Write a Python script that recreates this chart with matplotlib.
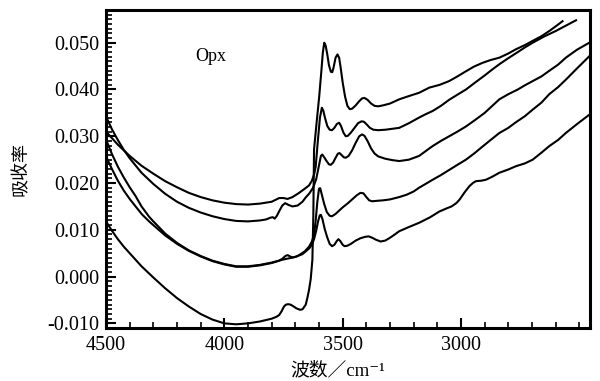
import numpy as np
import matplotlib
matplotlib.use("Agg")
import matplotlib.pyplot as plt
from matplotlib.ticker import MultipleLocator, FormatStrFormatter, FixedLocator

# wavenumber (cm-1) / absorbance
wn_a = [4500, 4475, 4450, 4425, 4400, 4350, 4300, 4250, 4200, 4150, 4100, 4050, 4000,
        3950, 3900, 3850, 3800, 3780, 3768, 3758, 3748, 3740, 3730, 3720, 3710, 3695,
        3680, 3670, 3656, 3649, 3642, 3635, 3628, 3624, 3621, 3610, 3599, 3590, 3584,
        3578, 3572, 3565, 3558, 3550, 3544, 3538, 3530, 3522, 3515, 3508, 3500, 3490,
        3480, 3470, 3460, 3445, 3430, 3418, 3408, 3395, 3380, 3365, 3350, 3330, 3300,
        3261, 3220, 3177, 3134, 3090, 3050, 3015, 2979, 2945, 2909, 2875, 2838, 2800,
        2768, 2730, 2697, 2660, 2627, 2600, 2571]
abs_a = [0.0118, 0.0098, 0.0080, 0.0064, 0.0050, 0.0022, -0.0002, -0.0025, -0.0046,
         -0.0064, -0.0080, -0.0092, -0.0100, -0.0102, -0.0100, -0.0096, -0.0090, -0.0086,
         -0.0082, -0.0074, -0.0064, -0.0060, -0.0059, -0.0060, -0.0063, -0.0068, -0.0071,
         -0.0070, -0.0060, -0.0045, -0.0028, -0.0005, 0.0036, 0.0130, 0.0272, 0.0330,
         0.0386, 0.0440, 0.0478, 0.0500, 0.0494, 0.0475, 0.0452, 0.0438, 0.0437, 0.0448,
         0.0468, 0.0475, 0.0468, 0.0445, 0.0415, 0.0385, 0.0365, 0.0358, 0.0359, 0.0366,
         0.0375, 0.0381, 0.0382, 0.0378, 0.0370, 0.0365, 0.0364, 0.0366, 0.0370, 0.0379,
         0.0386, 0.0393, 0.0404, 0.0410, 0.0418, 0.0428, 0.0439, 0.0449, 0.0457, 0.0463,
         0.0468, 0.0477, 0.0486, 0.0495, 0.0504, 0.0514, 0.0525, 0.0535, 0.0546]

wn_b = [4500, 4475, 4450, 4425, 4400, 4350, 4300, 4250, 4200, 4150, 4100, 4050, 4000,
        3950, 3900, 3850, 3800, 3780, 3768, 3750, 3733, 3712, 3684, 3660, 3642, 3630,
        3620, 3614, 3605, 3596, 3588, 3582, 3575, 3565, 3555, 3545, 3535, 3525, 3515,
        3507, 3497, 3487, 3478, 3465, 3450, 3435, 3420, 3410, 3398, 3385, 3370, 3350,
        3320, 3290, 3261, 3220, 3177, 3150, 3120, 3085, 3050, 3015, 2979, 2940, 2900,
        2870, 2838, 2800, 2760, 2730, 2697, 2650, 2600, 2555, 2514]
abs_b = [0.0310, 0.0296, 0.0282, 0.0270, 0.0258, 0.0237, 0.0220, 0.0204, 0.0191, 0.0179,
         0.0170, 0.0163, 0.0158, 0.0155, 0.0154, 0.0156, 0.0160, 0.0165, 0.0168, 0.0168,
         0.0166, 0.0170, 0.0179, 0.0188, 0.0195, 0.0205, 0.0220, 0.0235, 0.0290, 0.0340,
         0.0361, 0.0355, 0.0340, 0.0322, 0.0314, 0.0313, 0.0318, 0.0326, 0.0329, 0.0322,
         0.0308, 0.0300, 0.0301, 0.0308, 0.0318, 0.0328, 0.0332, 0.0331, 0.0325, 0.0318,
         0.0314, 0.0313, 0.0314, 0.0316, 0.0318, 0.0328, 0.0340, 0.0347, 0.0354, 0.0365,
         0.0378, 0.0389, 0.0400, 0.0415, 0.0430, 0.0442, 0.0454, 0.0467, 0.0480, 0.0490,
         0.0500, 0.0513, 0.0525, 0.0537, 0.0548]

wn_c = [4500, 4475, 4450, 4425, 4400, 4350, 4300, 4250, 4200, 4150, 4100, 4050, 4000,
        3950, 3900, 3850, 3825, 3805, 3795, 3787, 3778, 3768, 3755, 3743, 3728, 3712,
        3690, 3670, 3655, 3642, 3625, 3612, 3600, 3592, 3586, 3578, 3568, 3558, 3550,
        3540, 3530, 3520, 3513, 3505, 3495, 3487, 3475, 3460, 3445, 3430, 3418, 3408,
        3395, 3380, 3365, 3350, 3320, 3290, 3261, 3220, 3177, 3150, 3120, 3085,
        3050, 3015, 2979, 2940, 2900, 2870, 2838, 2800, 2760, 2730, 2697, 2660, 2627,
        2590, 2557, 2510, 2458]
abs_c = [0.0342, 0.0315, 0.0292, 0.0271, 0.0253, 0.0222, 0.0198, 0.0177, 0.0160, 0.0147,
         0.0137, 0.0129, 0.0123, 0.0119, 0.0118, 0.0120, 0.0122, 0.0126, 0.0127, 0.0124,
         0.0130, 0.0140, 0.0152, 0.0157, 0.0153, 0.0150, 0.0152, 0.0160, 0.0170, 0.0177,
         0.0190, 0.0208, 0.0238, 0.0258, 0.0261, 0.0255, 0.0247, 0.0240, 0.0239, 0.0244,
         0.0254, 0.0263, 0.0264, 0.0260, 0.0255, 0.0254, 0.0258, 0.0270, 0.0286, 0.0300,
         0.0304, 0.0301, 0.0290, 0.0274, 0.0263, 0.0257, 0.0252, 0.0249, 0.0247, 0.0250,
         0.0258, 0.0268, 0.0279, 0.0290, 0.0300, 0.0310, 0.0321, 0.0335, 0.0350,
         0.0364, 0.0379, 0.0390, 0.0400, 0.0409, 0.0418, 0.0428, 0.0440, 0.0453, 0.0468,
         0.0485, 0.0500]

wn_d = [4500, 4475, 4450, 4425, 4400, 4375, 4350, 4318, 4300, 4250, 4200, 4150, 4100,
        4050, 4000, 3950, 3900, 3850, 3800, 3770, 3755, 3742, 3733, 3722, 3712, 3695,
        3684, 3660, 3642, 3630, 3621, 3614, 3607, 3600, 3595, 3588, 3578, 3567, 3555,
        3545, 3530, 3515, 3500, 3480, 3460, 3440, 3425, 3412, 3400, 3388, 3375, 3355,
        3330, 3300, 3261, 3230, 3200, 3177, 3150, 3120, 3085, 3050, 3015, 2979, 2945,
        2909, 2875, 2838, 2800, 2768, 2730, 2697, 2660, 2627, 2590, 2557, 2510, 2458]
abs_d = [0.0293, 0.0262, 0.0235, 0.0212, 0.0191, 0.0172, 0.0150, 0.0128, 0.0118, 0.0092,
         0.0072, 0.0056, 0.0044, 0.0034, 0.0027, 0.0022, 0.0022, 0.0025, 0.0030, 0.0034,
         0.0038, 0.0044, 0.0046, 0.0043, 0.0041, 0.0043, 0.0046, 0.0054, 0.0064, 0.0075,
         0.0090, 0.0120, 0.0160, 0.0188, 0.0189, 0.0175, 0.0155, 0.0138, 0.0130, 0.0129,
         0.0134, 0.0141, 0.0148, 0.0156, 0.0165, 0.0174, 0.0179, 0.0178, 0.0170, 0.0163,
         0.0161, 0.0162, 0.0163, 0.0165, 0.0170, 0.0175, 0.0182, 0.0190, 0.0198, 0.0207,
         0.0217, 0.0228, 0.0239, 0.0250, 0.0263, 0.0278, 0.0292, 0.0307, 0.0318, 0.0330,
         0.0343, 0.0357, 0.0372, 0.0390, 0.0405, 0.0421, 0.0445, 0.0471]

wn_e = [4500, 4475, 4450, 4425, 4400, 4375, 4348, 4318, 4300, 4250, 4200, 4150, 4100,
        4050, 4000, 3950, 3900, 3850, 3800, 3755, 3700, 3670, 3642, 3630, 3621, 3612,
        3604, 3597, 3592, 3585, 3576, 3566, 3555, 3545, 3535, 3525, 3518, 3510, 3500,
        3492, 3480, 3465, 3445, 3425, 3405, 3390, 3375, 3360, 3340, 3320, 3300, 3280,
        3261, 3220, 3177, 3130, 3092, 3060, 3040, 3020, 3007, 2985, 2965, 2950, 2937,
        2915, 2895, 2870, 2838, 2800, 2768, 2730, 2697, 2660, 2627, 2590, 2557, 2510,
        2458]
abs_e = [0.0257, 0.0230, 0.0205, 0.0184, 0.0166, 0.0150, 0.0133, 0.0118, 0.0110, 0.0088,
         0.0070, 0.0055, 0.0043, 0.0033, 0.0026, 0.0021, 0.0021, 0.0024, 0.0029, 0.0036,
         0.0042, 0.0048, 0.0060, 0.0068, 0.0080, 0.0098, 0.0118, 0.0131, 0.0132, 0.0122,
         0.0102, 0.0085, 0.0070, 0.0065, 0.0068, 0.0076, 0.0080, 0.0076, 0.0068, 0.0065,
         0.0066, 0.0070, 0.0077, 0.0082, 0.0085, 0.0086, 0.0083, 0.0079, 0.0075, 0.0077,
         0.0083, 0.0090, 0.0097, 0.0106, 0.0115, 0.0127, 0.0139, 0.0146, 0.0150, 0.0157,
         0.0164, 0.0180, 0.0193, 0.0200, 0.0204, 0.0205, 0.0207, 0.0213, 0.0222, 0.0229,
         0.0236, 0.0242, 0.0250, 0.0265, 0.0279, 0.0292, 0.0307, 0.0326, 0.0346]

spectra = [(wn_a, abs_a), (wn_b, abs_b), (wn_c, abs_c), (wn_d, abs_d), (wn_e, abs_e)]

x_major = [4500, 4000, 3500, 3000]

plt.rcParams['font.family'] = ['Liberation Serif', 'Noto Sans CJK SC', 'DejaVu Serif']
plt.rcParams['axes.unicode_minus'] = False

fig = plt.figure(figsize=(6.0, 3.81), dpi=100)
ax = fig.add_axes([0.1767, 0.139, 0.8066, 0.8348])

for wn, ab in spectra:
    ax.plot(wn, ab, color='black', linewidth=1.5, solid_joinstyle='round')

ax.set_xlim(4500, 2455)
ax.set_ylim(-0.011, 0.057)

ax.xaxis.set_major_locator(FixedLocator(x_major))
ax.xaxis.set_minor_locator(MultipleLocator(100))
ax.yaxis.set_major_locator(MultipleLocator(0.01))
ax.yaxis.set_minor_locator(MultipleLocator(0.001))
ax.yaxis.set_major_formatter(FormatStrFormatter('%.3f'))

ax.tick_params(axis='both', which='major', direction='in', length=7, width=1.5,
               labelsize=14.5, pad=6, top=False, right=False)
ax.tick_params(axis='both', which='minor', direction='in', length=4, width=1.2,
               top=False, right=False)
ax.tick_params(axis='y', which='major', pad=5)

for sp in ax.spines.values():
    sp.set_linewidth(2.2)

ax.text(4056, 0.0470, 'Opx', fontsize=13, ha='center', va='center')

ax.set_xlabel('波数／cm⁻¹', fontsize=13.5)
ax.xaxis.set_label_coords(0.479, -0.132)
ax.xaxis.label.set_va('center')
ax.set_ylabel('吸收率', fontsize=13)
ax.yaxis.set_label_coords(-0.175, 0.5)
ax.yaxis.label.set_va('center')

fig.savefig('out.png', dpi=100)
